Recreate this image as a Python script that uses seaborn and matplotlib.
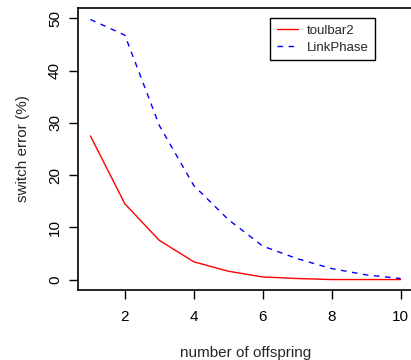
"""
Switch error vs number of offspring, toulbar2 against LinkPhase.
"""

import matplotlib
matplotlib.use('Agg')
import matplotlib.pyplot as plt
import seaborn as sns
import pandas as pd

offspring = [1, 2, 3, 4, 5, 6, 7, 8, 9, 10]
toulbar2 = [27.5, 14.5, 7.5, 3.4, 1.6, 0.5, 0.2, 0.0, 0.0, 0.0]
linkphase = [49.8, 46.8, 29.5, 18.0, 11.5, 6.4, 4.0, 2.1, 0.9, 0.2]

sns.set_style('ticks')
plt.rcParams['font.family'] = ['Liberation Sans', 'DejaVu Sans']

df = pd.DataFrame({'offspring': offspring, 'toulbar2': toulbar2, 'LinkPhase': linkphase})

fig = plt.figure(figsize=(4.11, 3.6), dpi=100)
# the right side of the original R plot is cropped off, so the axes run past the figure edge
ax = fig.add_axes([78 / 411, 1 - 290 / 360, 335 / 411, 282 / 360])

sns.lineplot(data=df, x='offspring', y='toulbar2', color='#ff0000', linewidth=1,
             label='toulbar2', ax=ax)
sns.lineplot(data=df, x='offspring', y='LinkPhase', color='#0000ff', linewidth=1,
             linestyle=(0, (4, 4)), label='LinkPhase', ax=ax)

ax.set_xlim(0.64, 10.36)
ax.set_ylim(-2, 52)
ax.set_xticks([2, 4, 6, 8, 10])
ax.set_yticks([0, 10, 20, 30, 40, 50])
ax.tick_params(axis='both', length=6.5, width=1, labelsize=11, color='black', labelcolor='black')
ax.tick_params(axis='x', pad=8)
ax.tick_params(axis='y', pad=5)
for lab in ax.get_yticklabels():
    lab.set_rotation(90)
    lab.set_va('center')

for side in ['left', 'right', 'top', 'bottom']:
    ax.spines[side].set_visible(True)
    ax.spines[side].set_linewidth(1.2)
    ax.spines[side].set_color('black')

ax.set_xlabel('number of offspring', fontsize=11, labelpad=16)
ax.set_ylabel('switch error (%)', fontsize=11, labelpad=13)

leg = ax.legend(loc='upper left', bbox_to_anchor=(270 / 411, 1 - 18 / 360),
                bbox_transform=fig.transFigure, frameon=True, fancybox=False,
                fontsize=9.5, handlelength=1.6, borderpad=0.5, labelspacing=0.35,
                handletextpad=0.7, borderaxespad=0)
leg.get_frame().set_edgecolor('black')
leg.get_frame().set_linewidth(1)
leg.get_frame().set_alpha(1)

plt.savefig('out.png', dpi=100)
plt.close()
